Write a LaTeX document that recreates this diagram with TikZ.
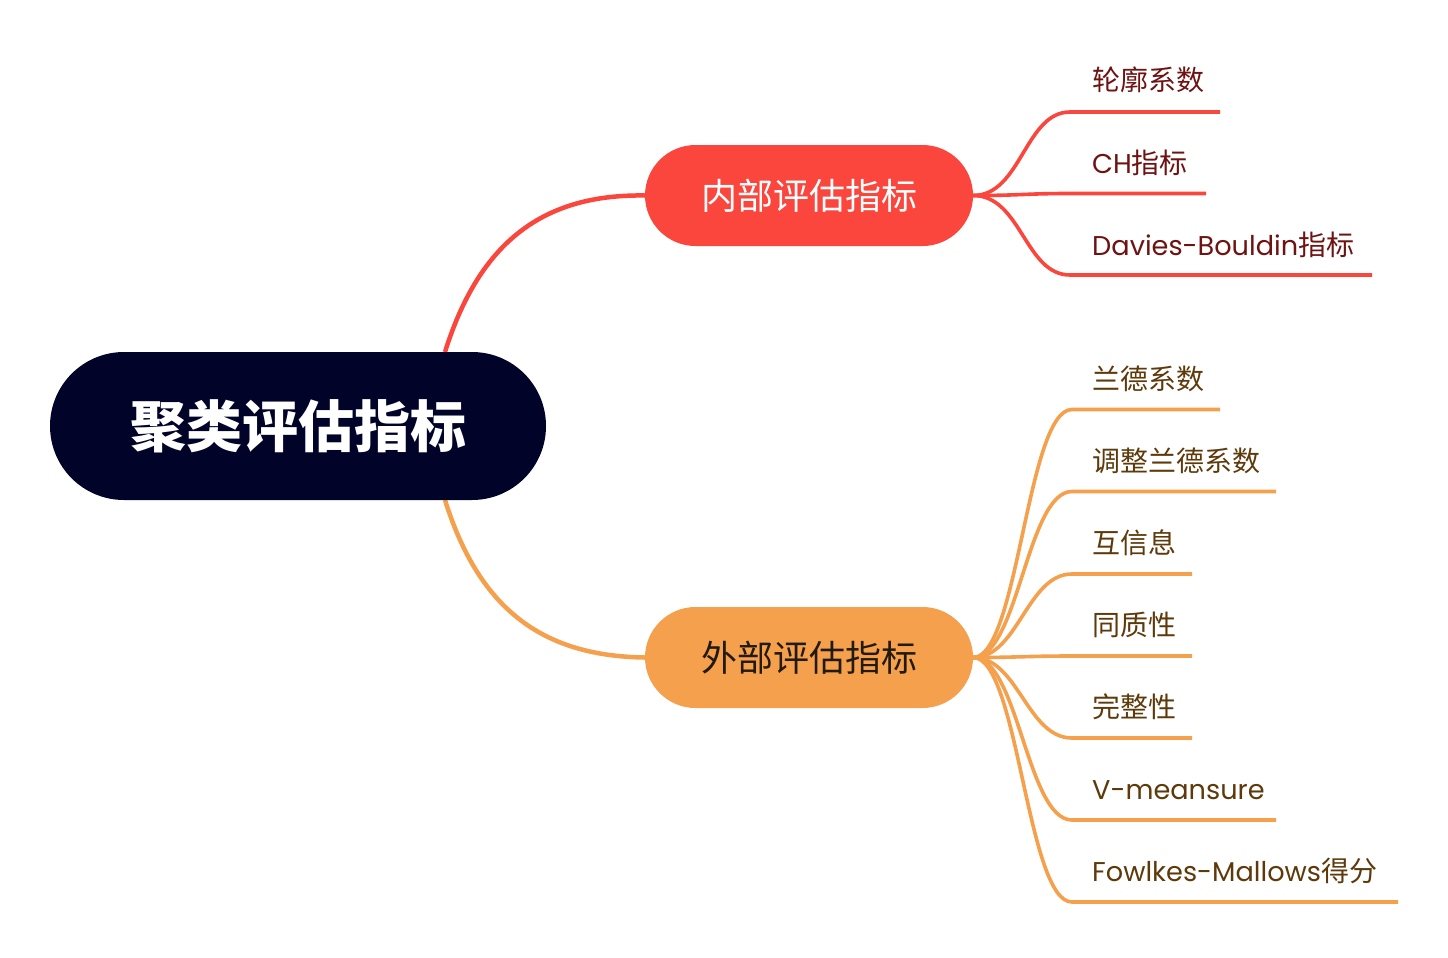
\documentclass[tikz,border=0pt]{standalone}
\usepackage{fontspec}
\setmainfont{Noto Sans CJK SC}
\newfontfamily\lat[Scale=0.97]{Poppins}
\definecolor{navy}{HTML}{020329}
\definecolor{redc}{HTML}{FA463D}
\definecolor{orac}{HTML}{F5A04D}
\definecolor{redt}{HTML}{6E1212}
\definecolor{orat}{HTML}{5E3A0B}
\definecolor{extt}{HTML}{231A0E}
\begin{document}
\begin{tikzpicture}[x=1pt,y=-1pt,
  rootbox/.style={fill=navy,text=white,rounded corners=74pt,minimum width=496pt,minimum height=148pt,inner sep=0pt,font=\fontsize{56}{60}\selectfont\bfseries},
  midbox/.style={rounded corners=50.5pt,minimum width=328pt,minimum height=101pt,inner sep=0pt,font=\fontsize{36}{40}\selectfont},
  leaf/.style={anchor=base west,inner sep=0pt,font=\fontsize{28}{32}\selectfont},
  redline/.style={draw=redc,line width=3.6pt},
  oraline/.style={draw=orac,line width=3.6pt},
  thick3/.style={line width=4.5pt}]
\useasboundingbox (0,0) rectangle (1448,958);
\fill[white] (0,0) rectangle (1448,958);
% connectors from root
\coordinate (rt) at (445,352);
\coordinate (rb) at (445,500);
\node[midbox,fill=redc,text=white] (int) at (809,195.5) {内部评估指标};
\node[midbox,fill=orac,text=extt] (ext) at (809,657.5) {外部评估指标};
\draw[redc,thick3] (rt) .. controls (480,240) and (545,194) .. (int.west);
\draw[orac,thick3] (rb) .. controls (480,612) and (545,656) .. (ext.west);
\node[rootbox] (root) at (298,426) {聚类评估指标};
% internal leaves
\node[leaf,text=redt] (a1) at (1092,91) {轮廓系数};
\node[leaf,text=redt] (a2) at (1092,173) {{\lat CH}指标};
\node[leaf,text=redt] (a3) at (1092,255) {{\lat Davies-Bouldin}指标};
\coordinate (a1s) at (1070,112); \coordinate (a1e) at (1220,112);
\coordinate (a2s) at (1070,193.5); \coordinate (a2e) at (1206,193.5);
\coordinate (a3s) at (1070,275); \coordinate (a3e) at (1372,275);
\foreach \i in {1,2,3}{
  \draw[redline] (int.east) .. controls +(48,0) and +(-45,0) .. (a\i s) -- (a\i e);
}
% external leaves
\node[leaf,text=orat] (b1) at (1092,389) {兰德系数};
\node[leaf,text=orat] (b2) at (1092,471) {调整兰德系数};
\node[leaf,text=orat] (b3) at (1092,553) {互信息};
\node[leaf,text=orat] (b4) at (1092,635) {同质性};
\node[leaf,text=orat] (b5) at (1092,717) {完整性};
\node[leaf,text=orat] (b6) at (1092,799) {\lat V-meansure};
\node[leaf,text=orat] (b7) at (1092,881) {{\lat Fowlkes-Mallows}得分};
\coordinate (b1s) at (1072,409.5); \coordinate (b1e) at (1220,409.5);
\coordinate (b2s) at (1072,491.5); \coordinate (b2e) at (1276,491.5);
\coordinate (b3s) at (1072,574); \coordinate (b3e) at (1192,574);
\coordinate (b4s) at (1072,656); \coordinate (b4e) at (1192,656);
\coordinate (b5s) at (1072,738); \coordinate (b5e) at (1192,738);
\coordinate (b6s) at (1072,820); \coordinate (b6e) at (1276,820);
\coordinate (b7s) at (1072,902); \coordinate (b7e) at (1398,902);
\foreach \i in {1,...,7}{
  \draw[oraline] (ext.east) .. controls +(45,0) and +(-45,0) .. (b\i s) -- (b\i e);
}
\end{tikzpicture}
\end{document}
